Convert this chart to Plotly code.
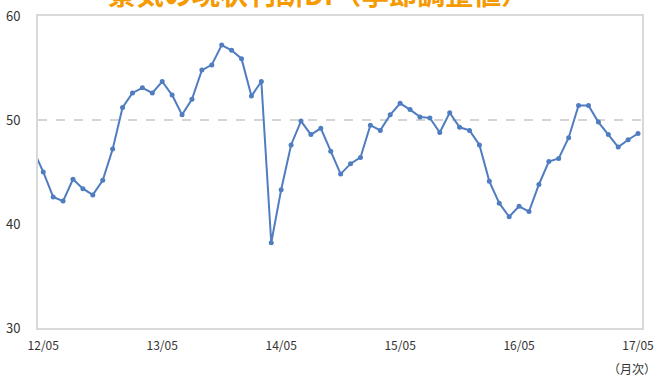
import plotly.graph_objects as go

months = ["12/04",
          "12/05", "12/06", "12/07", "12/08", "12/09", "12/10", "12/11", "12/12",
          "13/01", "13/02", "13/03", "13/04", "13/05", "13/06", "13/07", "13/08",
          "13/09", "13/10", "13/11", "13/12", "14/01", "14/02", "14/03", "14/04",
          "14/05", "14/06", "14/07", "14/08", "14/09", "14/10", "14/11", "14/12",
          "15/01", "15/02", "15/03", "15/04", "15/05", "15/06", "15/07", "15/08",
          "15/09", "15/10", "15/11", "15/12", "16/01", "16/02", "16/03", "16/04",
          "16/05", "16/06", "16/07", "16/08", "16/09", "16/10", "16/11", "16/12",
          "17/01", "17/02", "17/03", "17/04", "17/05"]
values = [47.1,
          45.0, 42.6, 42.2, 44.3, 43.4, 42.8, 44.2, 47.2,
          51.2, 52.6, 53.1, 52.6, 53.7, 52.4, 50.5, 52.0,
          54.8, 55.3, 57.2, 56.7, 55.9, 52.3, 53.7, 38.2,
          43.3, 47.6, 49.9, 48.6, 49.2, 47.0, 44.8, 45.8,
          46.4, 49.5, 49.0, 50.5, 51.6, 51.0, 50.3, 50.2,
          48.8, 50.7, 49.3, 49.0, 47.6, 44.1, 42.0, 40.7,
          41.7, 41.2, 43.8, 46.0, 46.3, 48.3, 51.4, 51.4,
          49.8, 48.6, 47.4, 48.1, 48.7]
tick_labels = ["12/05", "13/05", "14/05", "15/05", "16/05", "17/05"]
y_ticks = [30, 40, 50, 60]
title_text = "景気の現状判断DI（季節調整値）"
unit_text = "（月次）"

x = list(range(-1, len(values) - 1))
tick_pos = [x[months.index(t)] for t in tick_labels]

fig = go.Figure()
fig.add_trace(go.Scatter(
    x=x, y=values, mode="lines+markers",
    line=dict(color="#4F7DC0", width=2),
    marker=dict(color="#4F7DC0", size=5),
    cliponaxis=True, showlegend=False,
))
fig.add_shape(type="line", xref="paper", x0=0, x1=1, yref="y", y0=50, y1=50,
              line=dict(color="#C8C8C8", width=1.5, dash="dash"), layer="below")

fig.add_annotation(text=title_text, xref="paper", yref="paper", x=0.465, y=1.0,
                   yshift=23, xanchor="center", yanchor="middle", showarrow=False,
                   font=dict(family="Noto Sans CJK JP", size=28, color="#F59A00", weight="bold"))
fig.add_annotation(text=unit_text, xref="paper", yref="paper", x=0.983, y=0, yshift=-40,
                   xanchor="center", yanchor="middle", showarrow=False,
                   font=dict(family="Noto Sans CJK JP", size=12, color="#333333"))

fig.update_layout(
    width=657, height=376,
    margin=dict(l=38, r=15, t=16, b=48),
    plot_bgcolor="white", paper_bgcolor="white",
    font=dict(family="Noto Sans CJK JP", size=12, color="#333333"),
)
fig.update_xaxes(range=[-0.53, 60.4], tickvals=tick_pos, ticktext=tick_labels,
                 showgrid=False, zeroline=False, showline=True, mirror=True,
                 linecolor="#D9D9D9", linewidth=2, ticks="", ticklabelstandoff=6,
                 automargin=False, tickfont=dict(size=12, color="#333333"))
fig.update_yaxes(range=[30, 60], tickvals=y_ticks, showgrid=False, zeroline=False,
                 showline=True, mirror=True, linecolor="#D9D9D9", linewidth=2,
                 ticks="", ticklabelstandoff=13, automargin=False,
                 tickfont=dict(size=13, color="#333333"))

fig.write_html("out.html")
